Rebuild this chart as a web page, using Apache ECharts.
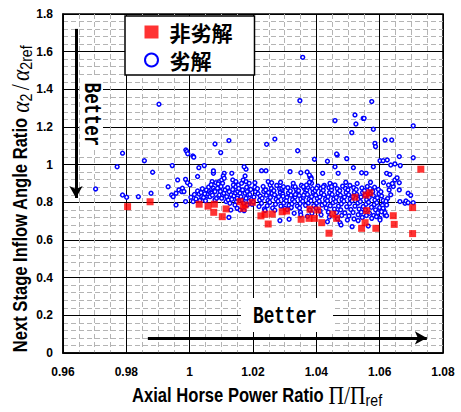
<!DOCTYPE html>
<html><head><meta charset="utf-8">
<script src="https://cdn.jsdelivr.net/npm/echarts@6/dist/echarts.min.js"></script>
<style>html,body{margin:0;padding:0;background:#fff}#c{width:461px;height:412px}</style>
</head><body><div id="c"></div>
<script>
// ---- series names / texts ----
const seriesNames = ['非劣解', '劣解'];
const betterText = 'Better';
// ---- axis ranges / ticks ----
const xMin = 0.96, xMax = 1.08, xStep = 0.02;
const yMin = 0, yMax = 1.8, yStep = 0.2;
// ---- annotation arrows (data coords) ----
const arrowDown = [[0.9641, 1.721], [0.9641, 0.823]];
const arrowRight = [[0.9868, 0.080], [1.0749, 0.080]];

// ---- non-dominated solutions (red squares) ----
const nonDominated = [
[0.9804,0.777],[0.9875,0.803],[1.0030,0.790],[1.0058,0.780],[1.0078,0.790],[1.0076,0.747],
[1.0103,0.724],[1.0115,0.765],[1.0159,0.804],[1.0169,0.768],[1.0175,0.786],[1.0198,0.800],
[1.0225,0.728],[1.0238,0.737],[1.0248,0.685],[1.0261,0.738],[1.0292,0.750],[1.0306,0.754],
[1.0352,0.710],[1.0380,0.763],[1.0377,0.715],[1.0394,0.715],[1.0404,0.759],[1.0417,0.692],
[1.0440,0.636],[1.0452,0.737],[1.0464,0.715],[1.0522,0.827],[1.0557,0.839],[1.0569,0.851],
[1.0559,0.756],[1.0554,0.692],[1.0543,0.662],[1.0588,0.662],[1.0643,0.729],[1.0646,0.683],
[1.0704,0.772],[1.0704,0.634],[1.0730,0.976]
];

// ---- dominated solutions (blue circles) ----
const dominated = [
[0.9703,0.871],[0.9771,0.989],[0.9788,1.061],[0.9788,0.839],[0.9801,0.827],[0.9838,0.830],[0.9857,1.021],
[0.9878,0.848],[0.9883,0.960],[0.9903,1.321],[0.9932,0.883],[0.9943,0.839],[0.9948,0.830],[0.9945,0.995],
[0.9957,0.848],[0.9957,0.786],[0.9962,0.919],[0.9966,0.866],[0.9975,0.857],[0.9977,0.875],[0.9982,0.857],
[0.9987,0.922],[0.9987,0.804],[0.9988,1.078],[0.9991,1.070],[0.9994,1.058],[0.9993,0.904],[1.0001,0.892],
[1.0004,0.827],[1.0011,0.804],[1.0010,1.046],[1.0013,1.040],
[1.0025,0.937],[1.0029,0.984],[1.0046,0.995],[1.0075,0.954],[1.0080,1.110],[1.0098,1.064],[1.0109,0.954],
[1.0124,1.128],[1.0133,0.954],[1.0071,0.910],[1.0083,0.904],[1.0094,0.910],[1.0101,0.919],[1.0104,0.901],
[1.0136,0.919],[1.0138,0.892],[1.0146,0.910],[1.0146,0.883],[1.0154,0.892],[1.0164,0.901],[1.0169,0.919],
[1.0175,0.940],[1.0178,0.976],[1.0178,0.910],[1.0188,0.901],[1.0106,0.940],[1.0109,0.928],[1.0172,0.989],
[1.0317,0.963],[1.0075,0.967],
[1.0015,0.842],[1.0020,0.818],[1.0025,0.860],[1.0030,0.844],[1.0032,0.810],[1.0036,0.852],[1.0038,0.830],
[1.0040,0.872],[1.0044,0.826],[1.0048,0.845],[1.0050,0.808],[1.0053,0.866],[1.0057,0.832],[1.0059,0.844],
[1.0060,0.881],[1.0062,0.857],[1.0064,0.830],[1.0066,0.850],[1.0068,0.894],[1.0070,0.848],[1.0072,0.838],
[1.0075,0.875],[1.0078,0.862],[1.0080,0.857],[1.0080,0.813],[1.0085,0.822],[1.0088,0.875],[1.0090,0.898],
[1.0092,0.832],[1.0094,0.839],[1.0097,0.858],[1.0099,0.884],[1.0101,0.822],[1.0104,0.842],[1.0108,0.848],
[1.0112,0.866],[1.0115,0.804],[1.0117,0.830],[1.0120,0.878],[1.0122,0.812],[1.0125,0.856],[1.0127,0.795],
[1.0130,0.759],[1.0131,0.840],[1.0133,0.816],[1.0136,0.868],[1.0140,0.834],[1.0143,0.786],[1.0145,0.850],
[1.0148,0.804],[1.0150,0.822],[1.0150,0.768],[1.0152,0.857],[1.0155,0.874],[1.0159,0.848],[1.0159,0.759],
[1.0162,0.830],[1.0165,0.812],[1.0167,0.866],[1.0170,0.795],[1.0172,0.756],[1.0175,0.848],[1.0178,0.822],
[1.0180,0.880],[1.0182,0.857],[1.0182,0.786],[1.0185,0.839],[1.0188,0.806],[1.0190,0.870],[1.0124,0.720],
[1.0190,0.842],[1.0195,0.815],[1.0193,0.868],[1.0197,0.790],
[1.0203,0.828],[1.0208,0.856],[1.0201,0.802],[1.0206,0.880],
[1.0216,0.846],[1.0221,0.812],[1.0214,0.872],[1.0219,0.778],[1.0223,0.833],
[1.0229,0.822],[1.0234,0.858],[1.0227,0.795],[1.0232,0.884],[1.0236,0.765],
[1.0242,0.838],[1.0247,0.810],[1.0240,0.866],[1.0245,0.782],[1.0249,0.852],
[1.0255,0.826],[1.0260,0.848],[1.0253,0.800],[1.0258,0.874],[1.0262,0.770],
[1.0268,0.840],[1.0273,0.816],[1.0266,0.862],[1.0271,0.790],[1.0275,0.890],[1.0269,0.758],
[1.0281,0.830],[1.0286,0.854],[1.0279,0.806],[1.0284,0.872],[1.0288,0.780],
[1.0294,0.844],[1.0299,0.818],[1.0292,0.866],[1.0297,0.796],[1.0301,0.768],[1.0295,0.832],
[1.0307,0.826],[1.0312,0.850],[1.0305,0.808],[1.0310,0.878],[1.0314,0.784],[1.0308,0.762],
[1.0320,0.838],[1.0325,0.814],[1.0318,0.860],[1.0323,0.792],[1.0327,0.884],[1.0321,0.772],
[1.0333,0.828],[1.0338,0.852],[1.0331,0.804],[1.0336,0.870],[1.0340,0.780],[1.0334,0.842],
[1.0346,0.836],[1.0351,0.818],[1.0344,0.862],[1.0349,0.794],[1.0353,0.890],[1.0347,0.770],[1.0350,0.748],
[1.0359,0.826],[1.0364,0.848],[1.0357,0.806],[1.0362,0.874],[1.0366,0.784],[1.0360,0.838],
[1.0372,0.842],[1.0377,0.816],[1.0370,0.866],[1.0375,0.796],[1.0379,0.760],[1.0373,0.880],
[1.0385,0.830],[1.0390,0.854],[1.0383,0.808],[1.0388,0.872],[1.0392,0.782],[1.0386,0.742],
[1.0398,0.838],[1.0403,0.820],[1.0396,0.862],[1.0401,0.796],[1.0405,0.886],[1.0399,0.770],
[1.0411,0.828],[1.0416,0.850],[1.0409,0.806],[1.0414,0.874],[1.0418,0.786],[1.0412,0.754],[1.0415,0.734],
[1.0424,0.840],[1.0429,0.816],[1.0422,0.864],[1.0427,0.794],[1.0431,0.770],[1.0425,0.890],
[1.0437,0.830],[1.0442,0.852],[1.0435,0.808],[1.0440,0.878],[1.0444,0.782],[1.0438,0.748],[1.0441,0.722],
[1.0450,0.842],[1.0455,0.818],[1.0448,0.866],[1.0453,0.798],[1.0457,0.764],[1.0451,0.890],
[1.0463,0.826],[1.0468,0.850],[1.0461,0.804],[1.0466,0.872],[1.0470,0.780],[1.0464,0.746],[1.0467,0.712],
[1.0476,0.838],[1.0481,0.814],[1.0474,0.862],[1.0479,0.792],[1.0483,0.886],[1.0477,0.760],[1.0480,0.730],
[1.0489,0.828],[1.0494,0.852],[1.0487,0.806],[1.0492,0.874],[1.0496,0.776],[1.0490,0.744],[1.0493,0.906],
[1.0502,0.840],[1.0507,0.818],[1.0500,0.866],[1.0505,0.794],[1.0509,0.762],[1.0503,0.728],[1.0506,0.890],
[1.0515,0.830],[1.0520,0.854],[1.0513,0.808],[1.0518,0.878],[1.0522,0.780],[1.0516,0.746],[1.0519,0.712],
[1.0528,0.842],[1.0533,0.816],[1.0526,0.868],[1.0531,0.796],[1.0535,0.764],[1.0529,0.900],[1.0532,0.734],
[1.0541,0.828],[1.0546,0.852],[1.0539,0.804],[1.0544,0.876],[1.0548,0.778],[1.0542,0.748],[1.0545,0.720],
[1.0554,0.838],[1.0559,0.814],[1.0552,0.862],[1.0557,0.790],[1.0561,0.884],[1.0555,0.760],[1.0558,0.730],
[1.0567,0.826],[1.0572,0.848],[1.0565,0.800],[1.0570,0.872],[1.0574,0.774],[1.0568,0.742],[1.0571,0.906],
[1.0580,0.836],[1.0585,0.812],[1.0578,0.858],[1.0583,0.788],[1.0587,0.760],[1.0581,0.730],[1.0584,0.880],
[1.0593,0.824],[1.0598,0.846],[1.0591,0.798],[1.0596,0.868],[1.0600,0.772],[1.0594,0.745],
[1.0606,0.834],[1.0611,0.810],[1.0604,0.856],[1.0609,0.784],[1.0613,0.758],
[1.0206,0.904],[1.0248,0.910],[1.0254,0.892],[1.0259,0.904],[1.0291,0.875],[1.0296,0.883],[1.0327,0.901],
[1.0333,0.883],[1.0359,0.883],[1.0369,0.892],[1.0385,0.901],[1.0380,0.933],[1.0401,0.875],[1.0422,0.883],
[1.0443,0.901],[1.0448,0.883],[1.0459,0.892],[1.0469,0.954],[1.0466,1.051],[1.0351,0.957],
[1.0285,0.703],[1.0314,0.710],[1.0351,0.733],[1.0238,0.757],[1.0330,0.742],[1.0372,0.726],
[1.0357,1.570],[1.0348,1.340],[1.0575,1.335],[1.0459,1.234],[1.0522,1.264],[1.0548,1.246],[1.0551,1.246],
[1.0525,1.216],[1.0580,1.188],[1.0706,1.206],[1.0512,1.170],[1.0585,1.113],[1.0587,1.096],[1.0617,1.131],
[1.0638,1.131],[1.0243,1.108],[1.0269,1.136],[1.0341,1.074],[1.0394,1.029],[1.0435,1.018],[1.0464,1.057],
[1.0496,1.032],[1.0662,1.043],[1.0706,1.037],[1.0601,1.021],[1.0611,1.021],[1.0624,1.025],[1.0635,0.998],
[1.0648,1.004],[1.0665,0.995],[1.0227,0.968],[1.0241,0.968],[1.0371,0.961],[1.0420,0.954],
[1.0459,0.989],[1.0517,0.984],[1.0543,0.957],[1.0557,0.954],[1.0580,0.989],[1.0287,0.906],[1.0378,0.906],
[1.0383,0.933],[1.0378,0.945],[1.0384,0.925],
[1.0622,0.954],[1.0632,0.948],[1.0648,0.919],[1.0662,0.904],[1.0643,0.884],[1.0630,0.866],[1.0662,0.866],
[1.0690,0.848],[1.0698,0.837],[1.0664,0.804],[1.0680,0.795],[1.0622,0.786],[1.0611,0.768],[1.0606,0.750],
[1.0617,0.733],[1.0590,0.724],[1.0601,0.715],[1.0601,0.706],[1.0575,0.715],[1.0532,0.703],[1.0513,0.671],
[1.0564,0.674],[1.0498,0.706],[1.0475,0.692],[1.0478,0.680],[1.0435,0.697],[1.0617,0.745],[1.0622,0.729],
[1.0683,0.807],[1.0690,0.798],[1.0706,0.798],[1.0625,0.820],[1.0635,0.840],[1.0620,0.806],[1.0640,0.900],
[1.0655,0.930],[1.0612,0.905],[1.0628,0.892]
];

const chart = echarts.init(document.getElementById('c'), null, {renderer: 'svg'});

const labelStyle = {color: '#000', fontSize: 12, fontWeight: 'bold', fontFamily: 'Liberation Sans'};
const minorLine = {show: true, lineStyle: {color: '#b4b4b4', width: 1, type: [5, 3]}};

chart.setOption({
  animation: false,
  backgroundColor: '#fff',
  grid: {left: 63, right: 18, top: 14, bottom: 59, show: true, borderColor: '#000', borderWidth: 1.5, backgroundColor: '#fff'},
  xAxis: {
    type: 'value', min: xMin, max: xMax, interval: xStep,
    axisLine: {show: true, lineStyle: {color: '#000', width: 1.5}},
    axisTick: {show: false},
    axisLabel: Object.assign({margin: 13}, labelStyle),
    splitLine: {show: true, lineStyle: {color: '#000', width: 1}},
    minorTick: {show: false, splitNumber: 4},
    minorSplitLine: minorLine
  },
  yAxis: {
    type: 'value', min: yMin, max: yMax, interval: yStep,
    axisLine: {show: true, lineStyle: {color: '#000', width: 1.5}},
    axisTick: {show: false},
    axisLabel: Object.assign({margin: 10}, labelStyle),
    splitLine: {show: true, lineStyle: {color: '#000', width: 1}},
    minorTick: {show: false, splitNumber: 5},
    minorSplitLine: minorLine
  },
  legend: {
    data: [{name: seriesNames[0], icon: 'rect'}, {name: seriesNames[1], icon: 'circle'}],
    orient: 'vertical', left: 125, top: 16, padding: [5, 22, 4, 19], itemGap: 6,
    itemWidth: 14, itemHeight: 13, borderColor: '#000', borderWidth: 1.5, backgroundColor: '#fff',
    selectedMode: false,
    textStyle: {fontSize: 21, fontWeight: 'bold', color: '#000', fontFamily: 'Noto Sans CJK JP', padding: [0, 0, 0, 6], lineHeight: 22}
  },
  series: [
    {
      name: seriesNames[1], type: 'scatter', data: dominated, symbol: 'circle', symbolSize: 3.8, z: 3,
      itemStyle: {color: '#fff', borderColor: '#0000ff', borderWidth: 1.5, opacity: 1},
      emphasis: {disabled: true},
      markLine: {
        silent: true, symbol: ['none', 'arrow'], symbolSize: [10, 12],
        label: {show: false}, emphasis: {disabled: true},
        lineStyle: {color: '#000', width: 3, type: 'solid'},
        data: [
          [{coord: arrowDown[0]}, {coord: arrowDown[1]}],
          [{coord: arrowRight[0]}, {coord: arrowRight[1]}]
        ]
      }
    },
    {
      name: seriesNames[0], type: 'scatter', data: nonDominated, symbol: 'rect', symbolSize: 7, z: 4,
      itemStyle: {color: '#ff0000'}, emphasis: {disabled: true}
    }
  ],
  graphic: [
    {type: 'rect', z: 50, silent: true, shape: {x: 241, y: 298, width: 92, height: 34}, style: {fill: '#fff'}},
    {type: 'text', z: 51, silent: true, x: 285, y: 316, scaleX: 0.74,
      style: {text: betterText, fontSize: 24, fontWeight: 'bold', fontFamily: 'Liberation Mono', fill: '#000', align: 'center', verticalAlign: 'middle'}},
    {type: 'rect', z: 50, silent: true, shape: {x: 80, y: 77, width: 23, height: 73}, style: {fill: '#fff'}},
    {type: 'text', z: 51, silent: true, x: 92, y: 114.5, rotation: -Math.PI / 2, scaleX: 0.74,
      style: {text: betterText, fontSize: 24, fontWeight: 'bold', fontFamily: 'Liberation Mono', fill: '#000', align: 'center', verticalAlign: 'middle'}},
    {type: 'text', z: 51, silent: true, x: 257, y: 395, scaleX: 0.83,
      style: {
        text: '{m|Axial Horse Power Ratio }{p|Π/Π}{s|ref}', align: 'center', verticalAlign: 'middle', fill: '#000',
        rich: {
          m: {fontSize: 20, fontWeight: 'bold', fontFamily: 'Liberation Sans', fill: '#000'},
          p: {fontSize: 26, fontFamily: 'Liberation Serif', lineHeight: 28, fill: '#000'},
          s: {fontSize: 17, fontFamily: 'Liberation Sans', verticalAlign: 'bottom', lineHeight: 17, fill: '#000'}
        }
      }},
    {type: 'text', z: 51, silent: true, x: 20, y: 199, rotation: Math.PI / 2, scaleX: 0.83,
      style: {
        text: '{m|Next Stage Inflow Angle Ratio }{g|α}{s|2}{sl|/}{g|α}{s|2ref}', align: 'center', verticalAlign: 'middle', fill: '#000',
        rich: {
          m: {fontSize: 20, fontWeight: 'bold', fontFamily: 'Liberation Sans', fill: '#000'},
          g: {fontSize: 26, fontFamily: 'Liberation Serif', fontStyle: 'italic', lineHeight: 30, fill: '#000'},
          sl: {fontSize: 26, fontFamily: 'Liberation Serif', padding: [0, 4], lineHeight: 30, fill: '#000'},
          s: {fontSize: 17, fontFamily: 'Liberation Sans', verticalAlign: 'bottom', lineHeight: 17, fill: '#000'}
        }
      }}
  ]
});
</script>
</body></html>
